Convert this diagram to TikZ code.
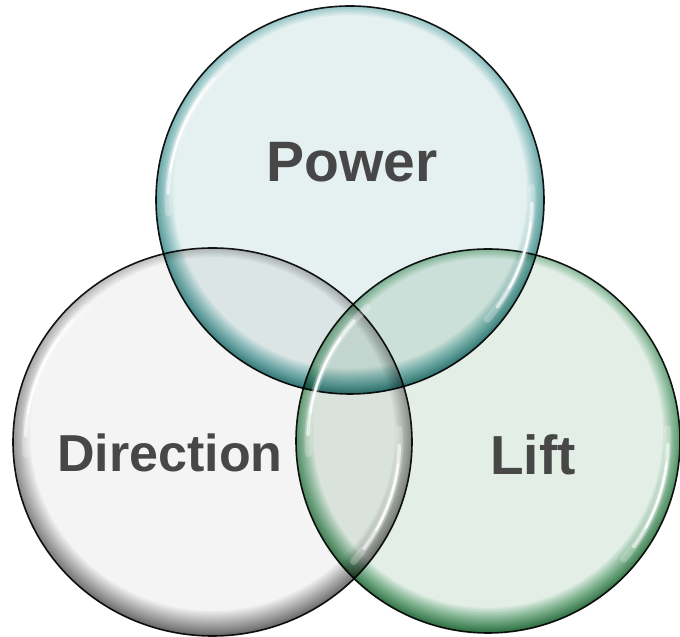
\documentclass[tikz,border=0pt]{standalone}
\usepackage{fontspec}
\setmainfont{Liberation Sans}
\usetikzlibrary{calc}

% glass tints: flat interior and the per-layer tint of the rim band
\definecolor{pwin}{RGB}{229,240,240}
\definecolor{pwtint}{RGB}{240,248,248}
\definecolor{drin}{RGB}{244,244,244}
\definecolor{drtint}{RGB}{246,246,246}
\definecolor{lfin}{RGB}{227,238,230}
\definecolor{lftint}{RGB}{239,247,242}
\definecolor{labelgray}{RGB}{71,71,71}

\begin{document}
\begin{tikzpicture}[x=1pt,y=1pt,
  rimline/.style={draw=black!90, line width=1.6pt},
  gloss/.style={draw=white, line cap=round},
  label/.style={text=labelgray, font=\fontsize{#1}{#1}\bfseries\selectfont, anchor=base, inner sep=0pt}]
\useasboundingbox (0,0) rectangle (680,637);
\fill[white] (0,0) rectangle (680,637);

\coordinate (pc) at (350,437);
\coordinate (dc) at (212.5,195);
\coordinate (lc) at (488,196);

% tinted glass discs, multiplied so the overlaps darken;
% stacked tinted annuli (centred a little high) darken the rim, most at the bottom
\begin{scope}[blend mode=multiply]
  \begin{scope}
    \clip (pc) circle (194);
    \fill[pwin] (pc) circle (194);
    \foreach \i in {1,...,24}
      \fill[pwtint, even odd rule] ($(pc)+(0,8)$) circle (260) ($(pc)+(0,8)$) circle ({202-25*(\i/24)^1.5});
  \end{scope}
  \begin{scope}
    \clip (dc) ellipse [x radius=199.5, y radius=194];
    \fill[drin] (dc) ellipse [x radius=199.5, y radius=194];
    \foreach \i in {1,...,24}
      \fill[drtint, even odd rule] ($(dc)+(0,8)$) circle (260) ($(dc)+(0,8)$) ellipse [x radius={207.5-25*(\i/24)^1.5}, y radius={202-25*(\i/24)^1.5}];
  \end{scope}
  \begin{scope}
    \clip (lc) circle (192);
    \fill[lfin] (lc) circle (192);
    \foreach \i in {1,...,24}
      \fill[lftint, even odd rule] ($(lc)+(0,8)$) circle (260) ($(lc)+(0,8)$) circle ({200-25*(\i/24)^1.5});
  \end{scope}
  \draw[rimline] (pc) circle (194);
  \draw[rimline] (dc) ellipse [x radius=199.5, y radius=194];
  \draw[rimline] (lc) circle (192);
\end{scope}

% glossy highlights just inside each rim
\foreach \c/\rx/\ry in {pc/182/182, dc/187/182, lc/180/180}{
  \draw[gloss, line width=7pt, opacity=.25] ($(\c)+(132:\rx pt and \ry pt)$) arc[start angle=132, end angle=184, x radius=\rx, y radius=\ry];
  \draw[gloss, line width=3.5pt, opacity=.6] ($(\c)+(138:\rx pt and \ry pt)$) arc[start angle=138, end angle=178, x radius=\rx, y radius=\ry];
  \draw[gloss, line width=1.8pt] ($(\c)+(145:\rx pt and \ry pt)$) arc[start angle=145, end angle=171, x radius=\rx, y radius=\ry];
  \draw[gloss, line width=7pt, opacity=.25] ($(\c)+(4:\rx pt and \ry pt)$) arc[start angle=4, end angle=-41, x radius=\rx, y radius=\ry];
  \draw[gloss, line width=3.5pt, opacity=.6] ($(\c)+(-1:\rx pt and \ry pt)$) arc[start angle=-1, end angle=-36, x radius=\rx, y radius=\ry];
  \draw[gloss, line width=1.8pt] ($(\c)+(-7:\rx pt and \ry pt)$) arc[start angle=-7, end angle=-29, x radius=\rx, y radius=\ry];
}

\node[label=57] (power) at (352,455) {Power};
\node[label=52] (direction) at (170,165) {Direction};
\node[label=55] (lift) at (533,162) {Lift};
\end{tikzpicture}
\end{document}
